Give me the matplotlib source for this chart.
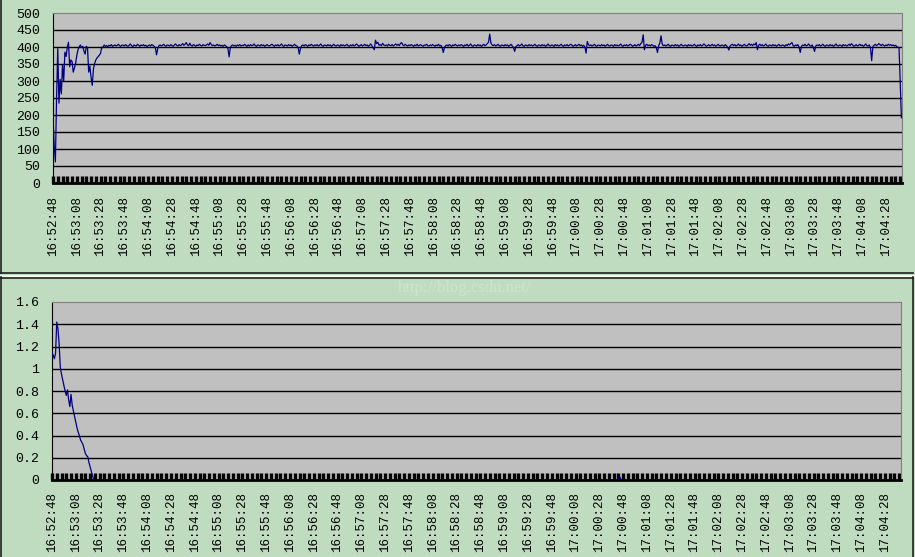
import matplotlib
matplotlib.use("Agg")
import matplotlib.pyplot as plt
from matplotlib.lines import Line2D
from matplotlib.ticker import MultipleLocator

BG = "#C0DCC0"
PLOT_BG = "#C0C0C0"
LINE = "#000080"
FONT = "Liberation Mono"

# top chart, one value per second starting 16:52:48
top_values = [
    200, 110, 62, 250, 395, 235, 305, 262, 348, 300, 385, 372, 398, 414, 342, 362, 358, 326, 338, 352,
    375, 392, 400, 406, 398, 402, 388, 379, 402, 398, 326, 344, 310, 287, 336, 352, 362, 368, 372, 376,
    382, 400, 398, 406, 402, 404, 401, 405, 403, 407, 402, 404, 406, 403, 405, 408, 404, 402, 406, 405,
    403, 407, 404, 402, 405, 409, 404, 401, 406, 404, 403, 408, 405, 402, 406, 404, 407, 403, 405, 401,
    404, 406, 403, 407, 405, 402, 398, 377, 395, 404, 406, 403, 405, 408, 404, 402, 406, 405, 403, 407,
    404, 402, 406, 409, 405, 403, 407, 404, 406, 410, 405, 408, 413, 406, 404, 411, 405, 403, 407, 405,
    402, 406, 404, 408, 405, 403, 407, 405, 404, 406, 409, 405, 413, 407, 404, 406, 403, 405, 408, 404,
    406, 403, 405, 402, 406, 404, 401, 396, 371, 398, 404, 406, 403, 405, 402, 406, 404, 407, 403, 405,
    404, 408, 405, 402, 406, 403, 407, 404, 405, 409, 404, 402, 406, 405, 403, 407, 404, 406, 402, 405,
    407, 404, 403, 406, 408, 405, 402, 406, 404, 407, 403, 405, 409, 404, 402, 406, 405, 403, 407, 404,
    406, 402, 405, 408, 404, 403, 398, 379, 396, 404, 406, 403, 407, 405, 402, 406, 404, 408, 405, 403,
    406, 404, 407, 403, 405, 409, 404, 402, 406, 405, 403, 407, 404, 406, 402, 405, 408, 404, 403, 406,
    405, 402, 407, 404, 406, 403, 405, 408, 404, 402, 406, 404, 407, 403, 405, 409, 406, 402, 404, 407,
    403, 405, 408, 404, 406, 402, 405, 409, 404, 398, 392, 420, 410, 414, 405, 407, 404, 411, 406, 404,
    406, 403, 408, 405, 404, 407, 403, 406, 409, 405, 408, 404, 410, 413, 406, 404, 408, 405, 403, 406,
    404, 407, 405, 402, 406, 404, 408, 403, 405, 407, 404, 402, 406, 405, 408, 404, 403, 406, 404, 407,
    405, 402, 406, 404, 408, 403, 405, 398, 384, 399, 404, 406, 403, 407, 405, 402, 406, 404, 408, 405,
    403, 406, 404, 407, 405, 402, 406, 404, 408, 403, 405, 409, 404, 402, 406, 405, 403, 407, 404, 406,
    402, 405, 408, 404, 406, 410, 414, 438, 412, 406, 404, 407, 403, 405, 408, 404, 402, 406, 405, 403,
    407, 404, 406, 402, 405, 408, 403, 398, 387, 401, 404, 407, 403, 405, 409, 404, 402, 406, 405, 403,
    407, 404, 406, 403, 405, 408, 404, 402, 406, 405, 403, 407, 404, 406, 402, 405, 409, 404, 403, 406,
    405, 402, 407, 404, 406, 403, 405, 408, 404, 402, 406, 404, 407, 403, 405, 408, 406, 402, 404, 407,
    403, 405, 408, 404, 406, 402, 405, 400, 382, 416, 407, 404, 406, 403, 405, 408, 404, 402, 406, 405,
    403, 407, 404, 406, 402, 405, 408, 404, 403, 406, 405, 402, 407, 404, 406, 403, 405, 409, 404, 402,
    406, 404, 407, 403, 405, 408, 406, 402, 404, 407, 403, 405, 408, 404, 410, 414, 436, 392, 405, 408,
    404, 406, 403, 407, 405, 402, 404, 398, 384, 404, 412, 433, 408, 404, 406, 403, 405, 408, 404, 402,
    406, 405, 403, 407, 404, 406, 402, 405, 408, 404, 403, 406, 405, 402, 407, 404, 406, 403, 405, 408,
    404, 402, 406, 404, 407, 403, 405, 409, 406, 402, 404, 407, 403, 405, 408, 404, 406, 402, 405, 408,
    404, 403, 406, 405, 402, 407, 404, 399, 391, 403, 406, 408, 404, 407, 403, 405, 409, 404, 406, 402,
    405, 408, 404, 403, 406, 410, 405, 408, 404, 409, 406, 413, 392, 405, 408, 404, 407, 403, 405, 409,
    404, 402, 406, 405, 403, 407, 404, 406, 402, 405, 408, 404, 403, 406, 405, 402, 407, 404, 409, 406,
    410, 413, 404, 402, 406, 404, 407, 399, 384, 402, 406, 404, 408, 403, 405, 409, 404, 402, 406, 398,
    387, 403, 406, 404, 407, 403, 405, 408, 404, 402, 406, 405, 403, 407, 404, 406, 402, 405, 409, 404,
    403, 406, 405, 402, 407, 404, 406, 403, 405, 408, 404, 410, 406, 402, 404, 407, 403, 405, 408, 404,
    406, 402, 405, 409, 404, 403, 406, 398, 360, 401, 405, 408, 404, 406, 410, 407, 404, 408, 405, 403,
    406, 404, 408, 405, 407, 404, 406, 403, 405, 402, 399, 398, 290, 192,
]

# bottom chart: decay at the start, then flat zero with one small blip
bottom_start = [
    1.15, 1.12, 1.09, 1.14, 1.42, 1.36, 1.22, 1.01, 0.95, 0.90, 0.85, 0.80, 0.76, 0.81, 0.72, 0.66,
    0.77, 0.67, 0.62, 0.57, 0.52, 0.47, 0.43, 0.40, 0.36, 0.34, 0.32, 0.28, 0.24, 0.22, 0.21, 0.16,
    0.12, 0.08, 0.04, 0.0,
]
bottom_blip = [0.01, 0.03, 0.01]
blip_at = 476

N = len(top_values)
bottom_values = bottom_start + [0.0] * (blip_at - len(bottom_start)) + bottom_blip
bottom_values = bottom_values + [0.0] * (N - len(bottom_values))

time_labels = [
    "16:52:48", "16:53:08", "16:53:28", "16:53:48", "16:54:08", "16:54:28", "16:54:48",
    "16:55:08", "16:55:28", "16:55:48", "16:56:08", "16:56:28", "16:56:48", "16:57:08",
    "16:57:28", "16:57:48", "16:58:08", "16:58:28", "16:58:48", "16:59:08", "16:59:28",
    "16:59:48", "17:00:08", "17:00:28", "17:00:48", "17:01:08", "17:01:28", "17:01:48",
    "17:02:08", "17:02:28", "17:02:48", "17:03:08", "17:03:28", "17:03:48", "17:04:08",
    "17:04:28",
]
label_step = 20

top_ticks = [0, 50, 100, 150, 200, 250, 300, 350, 400, 450, 500]
top_tick_text = ["0", "50", "100", "150", "200", "250", "300", "350", "400", "450", "500"]
bottom_ticks = [0, 0.2, 0.4, 0.6, 0.8, 1.0, 1.2, 1.4, 1.6]
bottom_tick_text = ["0", "0.2", "0.4", "0.6", "0.8", "1", "1.2", "1.4", "1.6"]

W, H = 915, 557
fig = plt.figure(figsize=(W / 100, H / 100), dpi=100, facecolor=BG)


def rect(left, top, right, bottom):
    return [left / W, 1 - bottom / H, (right - left) / W, (bottom - top) / H]


def hline(x0, x1, y, color="#202020", lw=1.2):
    fig.add_artist(Line2D([x0 / W, x1 / W], [1 - y / H, 1 - y / H], color=color, lw=lw))


def vline(x, y0, y1, color="#202020", lw=1.2):
    fig.add_artist(Line2D([x / W, x / W], [1 - y0 / H, 1 - y1 / H], color=color, lw=lw))


def draw_chart(ax, values, ticks, tick_text):
    ax.set_facecolor(PLOT_BG)
    x = list(range(N))
    ax.plot(x, values, color=LINE, lw=0.9, zorder=3)
    ax.set_xlim(0, N - 0.5)
    ax.set_ylim(ticks[0], ticks[-1])
    ax.set_yticks(ticks)
    ax.set_yticklabels(tick_text, fontfamily=FONT, fontsize=9.5)
    for t in ticks[1:-1]:
        ax.axhline(t, color="black", lw=1.0, zorder=1)
    pos = [i * label_step for i in range(len(time_labels))]
    ax.set_xticks(pos)
    ax.set_xticklabels(time_labels, rotation=90, fontfamily=FONT, fontsize=9,
                       va="top", ha="center")
    ax.xaxis.set_minor_locator(MultipleLocator(4))
    ax.xaxis.remove_overlapping_locs = False
    ax.tick_params(axis="x", which="major", length=0, pad=9)
    ax.tick_params(axis="x", which="minor", direction="in", length=5, width=2.4, color="black")
    ax.tick_params(axis="y", length=0, pad=9)
    ax.spines["top"].set_color("#808080")
    ax.spines["right"].set_color("#808080")
    ax.spines["left"].set_color("black")
    ax.spines["bottom"].set_color("black")
    ax.spines["bottom"].set_linewidth(2)


ax_top = fig.add_axes(rect(53, 13, 902, 183))
draw_chart(ax_top, top_values, top_ticks, top_tick_text)

ax_bot = fig.add_axes(rect(52, 302, 901, 480))
draw_chart(ax_bot, bottom_values, bottom_ticks, bottom_tick_text)

# chart object borders
vline(0.5, 0, 273)
hline(0, 913, 273)
hline(0, 913, 275.5, color="#F4F8F4", lw=2)
hline(0, 913, 277.5)
vline(912.5, 277, 557)
vline(0.5, 277, 557)

fig.text(465 / W, 1 - 288 / H, "http://blog.csdn.net/", color="#CCE4CC",
         fontfamily="Liberation Serif", fontsize=12, ha="center", va="center")

fig.savefig("out.png", dpi=100, facecolor=BG)
